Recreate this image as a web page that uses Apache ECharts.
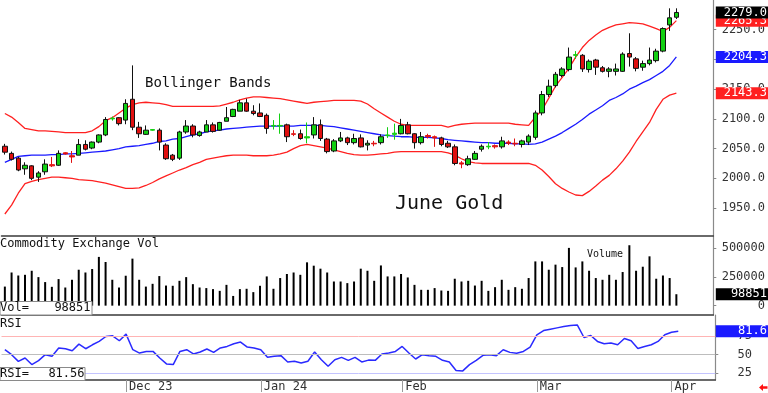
<!DOCTYPE html>
<html><head><meta charset="utf-8">
<script src="https://cdn.jsdelivr.net/npm/echarts@6/dist/echarts.min.js"></script>
<style>html,body{margin:0;padding:0;background:#fff}#c{width:768px;height:393px}</style>
</head><body><div id="c"></div>
<script>
const dates = [
'2023-11-06','2023-11-07','2023-11-08','2023-11-09','2023-11-10','2023-11-13','2023-11-14','2023-11-15','2023-11-16','2023-11-17',
'2023-11-20','2023-11-21','2023-11-22','2023-11-24','2023-11-27','2023-11-28','2023-11-29','2023-11-30',
'2023-12-01','2023-12-04','2023-12-05','2023-12-06','2023-12-07','2023-12-08','2023-12-11','2023-12-12','2023-12-13','2023-12-14','2023-12-15',
'2023-12-18','2023-12-19','2023-12-20','2023-12-21','2023-12-22','2023-12-26','2023-12-27','2023-12-28','2023-12-29',
'2024-01-02','2024-01-03','2024-01-04','2024-01-05','2024-01-08','2024-01-09','2024-01-10','2024-01-11','2024-01-12','2024-01-16',
'2024-01-17','2024-01-18','2024-01-19','2024-01-22','2024-01-23','2024-01-24','2024-01-25','2024-01-26','2024-01-29','2024-01-30','2024-01-31',
'2024-02-01','2024-02-02','2024-02-05','2024-02-06','2024-02-07','2024-02-08','2024-02-09','2024-02-12','2024-02-13','2024-02-14','2024-02-15',
'2024-02-16','2024-02-20','2024-02-21','2024-02-22','2024-02-23','2024-02-26','2024-02-27','2024-02-28','2024-02-29',
'2024-03-01','2024-03-04','2024-03-05','2024-03-06','2024-03-07','2024-03-08','2024-03-11','2024-03-12','2024-03-13','2024-03-14','2024-03-15',
'2024-03-18','2024-03-19','2024-03-20','2024-03-21','2024-03-22','2024-03-25','2024-03-26','2024-03-27','2024-03-28',
'2024-04-01','2024-04-02'];

const openP  = [2054,2042,2034,2016,2021,2002,2011,2023,2022,2043, 2038,2039,2057,2051,2061,2073,2100,2102,2098,2133,
 2086,2074,2081,2081,2056,2039,2034,2078,2088,2072, 2078,2090,2081,2096,2104,2113,2127,2113,2110,2106,
 2088,2088,2090,2075,2075,2068,2073,2090,2066,2046, 2063,2068,2060,2068,2056,2059,2060,2072,2074,2075,
 2090,2075,2060,2072,2070,2068,2059,2053,2026,2023, 2032,2049,2053,2055,2053,2061,2059,2057,2061,2069,
 2110,2141,2156,2173,2183,2207,2207,2183,2199,2186, 2180,2180,2180,2210,2201,2187,2193,2198,2214,2258, 2271];
const highP  = [2058,2045,2036,2027,2022,2012,2032,2036,2047,2044, 2046,2066,2064,2062,2074,2103,2104,2103,2133,2190,
 2095,2089,2083,2084,2059,2041,2080,2098,2091,2080, 2098,2094,2095,2120,2117,2132,2134,2123,2126,2109,
 2098,2109,2092,2081,2082,2094,2103,2099,2068,2066, 2078,2070,2075,2074,2064,2063,2074,2086,2092,2100,
 2095,2076,2078,2075,2072,2070,2063,2057,2029,2038, 2046,2057,2061,2057,2070,2064,2067,2065,2074,2114,
 2147,2166,2179,2187,2220,2214,2209,2200,2201,2189, 2187,2193,2212,2244,2204,2198,2220,2218,2254,2286, 2286];
const lowP   = [2040,2030,2012,2006,1997,1994,2006,2019,2021,2040, 2026,2039,2047,2049,2059,2071,2097,2089,2091,2081,
 2068,2073,2080,2047,2031,2029,2031,2075,2069,2070, 2078,2077,2080,2096,2103,2113,2112,2106,2103,2075,
 2082,2075,2061,2071,2065,2059,2067,2063,2042,2044, 2061,2056,2057,2052,2047,2054,2057,2068,2065,2074,
 2074,2050,2057,2067,2053,2054,2051,2022,2017,2021, 2031,2045,2049,2050,2050,2056,2054,2052,2056,2065,
 2106,2137,2153,2170,2180,2201,2179,2178,2174,2178, 2170,2173,2179,2188,2180,2181,2190,2195,2212,2248, 2268];
const closeP = [2044,2032,2014,2022,2000,2009,2024,2021,2042,2041, 2036,2057,2049,2061,2073,2099,2101,2092,2126,2086,
 2075,2081,2082,2061,2033,2032,2078,2088,2073,2078, 2090,2079,2094,2102,2116,2127,2113,2109,2104,2084,
 2089,2089,2070,2074,2067,2070,2090,2067,2045,2063, 2068,2060,2067,2053,2059,2058,2070,2073,2076,2089,
 2075,2060,2070,2070,2068,2057,2053,2025,2024,2033, 2042,2054,2054,2053,2063,2059,2058,2063,2071,2110,
 2141,2155,2175,2184,2204,2208,2184,2197,2187,2180, 2184,2184,2209,2204,2185,2193,2199,2214,2252,2270, 2279];

const bbUpper = [2109,2103,2094,2084,2082,2080,2080,2079,2078,2077, 2077,2077,2077,2080,2087,2097,2102,2110,2118,2124,
 2127,2128,2127,2126,2124,2121,2121,2121,2121,2121, 2121,2121,2122,2125,2128,2132,2135,2137,2137,2136,
 2135,2134,2132,2130,2128,2126,2128,2129,2130,2131, 2131,2131,2131,2130,2125,2117,2110,2103,2096,2091,
 2089,2089,2089,2089,2089,2089,2086,2089,2091,2092, 2093,2093,2093,2093,2093,2093,2091,2090,2089,2103,
 2115,2135,2155,2170,2185,2204,2220,2232,2241,2249, 2254,2258,2260,2262,2261,2260,2256,2252,2247,2254, 2265.3];
const bbMiddle = [2027,2032,2037,2038,2039,2039,2039,2040,2040,2041, 2041,2042,2043,2044,2045,2046,2048,2050,2053,2054,
 2055,2057,2059,2062,2063,2066,2067,2070,2073,2075, 2078,2080,2081,2083,2084,2085,2086,2087,2088,2088,
 2088,2088,2088,2088,2089,2089,2089,2089,2088,2087, 2085,2083,2081,2079,2077,2075,2073,2072,2071,2070,
 2070,2069,2069,2069,2068,2067,2065,2064,2063,2062, 2061,2060,2060,2059,2059,2059,2058,2058,2057,2058,
 2061,2066,2071,2077,2084,2091,2099,2108,2115,2122, 2131,2136,2142,2150,2155,2161,2166,2173,2180,2190, 2204.3];
const bbLower = [1940,1955,1975,1991,1995,1998,2000,2002,2002,2001, 2000,1998,1997,1996,1994,1992,1989,1986,1983,1983,
 1984,1988,1993,1999,2004,2009,2014,2018,2023,2027, 2032,2034,2036,2038,2039,2039,2039,2038,2038,2038,
 2039,2041,2044,2050,2055,2057,2055,2053,2051,2048, 2045,2042,2040,2039,2039,2040,2041,2042,2044,2045,
 2045,2045,2045,2045,2045,2045,2043,2039,2033,2028, 2026,2025,2025,2025,2025,2025,2025,2025,2025,2022,
 2014,2003,1991,1983,1977,1972,1971,1978,1987,1997, 2005,2016,2029,2044,2062,2078,2094,2116,2133,2140, 2143.3];

const volume = [165000,287000,261000,267000,302000,247000,204000,163000,230000,157000,
 224000,311000,287000,317000,422000,378000,224000,157000,259000,407000,
 224000,165000,189000,256000,174000,172000,215000,247000,186000,157000,
 152000,143000,128000,180000,84000,143000,146000,117000,172000,253000,
 146000,239000,274000,287000,267000,375000,346000,320000,287000,209000,
 209000,195000,209000,320000,302000,215000,348000,253000,253000,274000,
 244000,180000,137000,137000,152000,131000,128000,233000,209000,215000,
 174000,215000,128000,160000,224000,137000,160000,146000,239000,383000,
 383000,311000,355000,334000,500000,331000,383000,302000,239000,224000,
 267000,224000,291000,523000,302000,337000,427000,233000,261000,239000,
 98851];

const rsi = [56.7,50,41,45.6,36.7,42,50,47.8,59,58, 55.3,64.2,58,63.3,67.8,74.4,75.3,68.7,77.6,56.7,
 52.2,54.4,54.4,45.6,37.6,36.7,54.4,56.7,51,53.6, 57.6,53.1,59,61.1,64.7,66.9,60.2,59,56.7,46.4,
 47.8,48.7,40.2,41.1,38.9,41.1,53.6,43.3,34.4,43.3, 46.4,42.4,46.4,40.2,42.7,42.4,51,52.2,54.4,61.1,
 52.2,44.2,50,48.7,47.8,42.4,40.2,28.7,28.2,36.7, 42.4,49.1,50,48.7,56.7,53.1,51.8,54.4,60.2,76.7,
 82.4,84.2,86,87.8,89.1,90,73.1,75.8,67.8,64.7, 65.6,63.3,71.8,68.7,58.4,61.1,63.3,67.8,76.7,80.2, 81.56];

const monthLabels = {'2023-12-01':'Dec 23','2024-01-02':'Jan 24','2024-02-01':'Feb','2024-03-01':'Mar','2024-04-01':'Apr'};
const priceTicks = [1950,2000,2050,2100,2150,2200,2250];
const volumeTicks = [0,250000,500000];
const rsiTicks = [25,50,75];
const rsiLevels = [75,50,25];
const rsiLevelColors = ['#ffb4b4','#bdbdbd','#c4c4ff'];

const MONO = 'DejaVu Sans Mono';
const UP = '#12d012', DOWN = '#e01010';
const GL = 1.5, GW = 713.8, GR = GL + GW;
const chart = echarts.init(document.getElementById('c'), null, {renderer:'canvas'});

const candles = dates.map((d,i)=>{
  const v = [openP[i], closeP[i], lowP[i], highP[i]];
  if (Math.abs(openP[i]-closeP[i]) <= 2) {
    const c = closeP[i] >= openP[i] ? UP : DOWN;
    return {value:v, itemStyle:{borderColor:c, borderColor0:c}};
  }
  return v;
});
const isMonth = (i, v) => Object.prototype.hasOwnProperty.call(monthLabels, v);

function xAxisFor(gi, showLabels){
  return {
    type:'category', gridIndex:gi, data:dates, boundaryGap:true, max:105,
    axisLine:{show:true, onZero:false, lineStyle:{color:'#3a3a3a', width:1.5}},
    axisTick: showLabels ? {show:true, interval:isMonth, alignWithLabel:true, length:12, lineStyle:{color:'#9a9a9a'}} : {show:false},
    axisLabel: showLabels ? {show:true, interval:isMonth, formatter:v=>monthLabels[v]||'', align:'left', padding:[0,0,0,3],
      margin:1, fontFamily:MONO, fontSize:12, color:'#333'} : {show:false},
    splitLine:{show:false}
  };
}
function yAxisFor(gi, min, max, ticks, fmt, margin){
  return {
    type:'value', gridIndex:gi, position:'right', min:min, max:max, scale:true,
    axisLine:{show:true, lineStyle:{color:'#8a8a8a', width:1.2}},
    axisTick:{show:true, customValues:ticks, length:3, lineStyle:{color:'#8a8a8a'}},
    axisLabel:{show:true, customValues:ticks, formatter:fmt, align:'right', margin:margin,
      fontFamily:MONO, fontSize:12, color:'#333'},
    splitLine:{show:false}
  };
}

const option = {
  animation:false,
  backgroundColor:'#fff',
  grid:[
    {left:GL, width:GW, top:0, height:236},
    {left:GL, width:GW, top:236, height:79},
    {left:GL, width:GW, top:315, height:65.5}
  ],
  xAxis:[xAxisFor(0,false), xAxisFor(1,false), xAxisFor(2,true)],
  yAxis:[
    yAxisFor(0, 1903, 2300, priceTicks, v=>v.toFixed(1), 767-GR),
    yAxisFor(1, -81000, 603000, volumeTicks, v=>String(v), 767-GR),
    yAxisFor(2, 16, 103.3, rsiTicks, v=>String(v), 752-GR)
  ],
  series:[
    {type:'line', name:'Upper', xAxisIndex:0, yAxisIndex:0, data:bbUpper, showSymbol:false, symbol:'none',
      lineStyle:{color:'#ff2020', width:1.3}, z:2},
    {type:'line', name:'Middle', xAxisIndex:0, yAxisIndex:0, data:bbMiddle, showSymbol:false, symbol:'none',
      lineStyle:{color:'#1a1aff', width:1.3}, z:2},
    {type:'line', name:'Lower', xAxisIndex:0, yAxisIndex:0, data:bbLower, showSymbol:false, symbol:'none',
      lineStyle:{color:'#ff2020', width:1.3}, z:2},
    {type:'candlestick', name:'June Gold', xAxisIndex:0, yAxisIndex:0, data:candles, barWidth:5,
      itemStyle:{color:UP, color0:DOWN, borderColor:'#111', borderColor0:'#111', borderWidth:1}, z:3},
    {type:'bar', name:'Volume', xAxisIndex:1, yAxisIndex:1, data:volume, barWidth:2,
      itemStyle:{color:'#000'}},
    {type:'line', name:'RSI', xAxisIndex:2, yAxisIndex:2, data:rsi, showSymbol:false, symbol:'none',
      lineStyle:{color:'#2a2aff', width:1.5}, z:3,
      markLine:{silent:true, symbol:['none','none'], label:{show:false},
        data: rsiLevels.map((v,k)=>({yAxis:v, lineStyle:{color:rsiLevelColors[k], width:1, type:'solid'}}))}}
  ]
};
chart.setOption(option);

function txt(x, y, s, size, align, color, z){
  return {type:'text', z:z||50, style:{text:s, x:x, y:y, font:size+'px "'+MONO+'"', fill:color||'#111',
    textAlign:align||'left', align:align||'left', textVerticalAlign:'middle', verticalAlign:'middle'}};
}
function tag(axisIdx, value, label, bg, z){
  const y = chart.convertToPixel({yAxisIndex:axisIdx}, value);
  return [
    {type:'rect', z:z, shape:{x:GR+0.5, y:y-6, width:768-GR, height:12}, style:{fill:bg}},
    txt(767, y, label, 12, 'right', '#fff', z+1)
  ];
}
const last = dates.length-1;
const g = [];
g.push(txt(145, 83, 'Bollinger Bands', 14, 'left', '#111'));
g.push(txt(395, 204, 'June Gold', 20, 'left', '#111'));
g.push(txt(0, 243.5, 'Commodity Exchange Vol', 12, 'left', '#111'));
g.push(txt(587, 254, 'Volume', 10, 'left', '#111'));
g.push(txt(0, 323.5, 'RSI', 12, 'left', '#111'));
g.push({type:'rect', z:49, shape:{x:0, y:301.5, width:92, height:13.5}, style:{fill:'#fff', stroke:'#8a8a8a', lineWidth:1}});
g.push(txt(0, 308.3, 'Vol=', 12, 'left', '#111'));
g.push(txt(90.5, 308.3, String(volume[last]), 12, 'right', '#111'));
g.push({type:'rect', z:49, shape:{x:0, y:367.5, width:85, height:13}, style:{fill:'#fff', stroke:'#8a8a8a', lineWidth:1}});
g.push(txt(0, 374, 'RSI=', 12, 'left', '#111'));
g.push(txt(84.5, 374, rsi[last].toFixed(2), 12, 'right', '#111'));
g.push(...tag(0, bbLower[last], bbLower[last].toFixed(1), '#ff2020', 60));
g.push(...tag(0, bbMiddle[last], bbMiddle[last].toFixed(1), '#1a1aff', 62));
g.push(...tag(0, bbUpper[last], bbUpper[last].toFixed(1), '#ff2020', 64));
g.push(...tag(0, closeP[last], closeP[last].toFixed(1), '#000', 66));
g.push(...tag(1, volume[last], String(volume[last]), '#000', 60));
g.push(...tag(2, rsi[last], rsi[last].toFixed(1), '#1a1aff', 60));
g.push({type:'polygon', z:70, shape:{points:[[759,387.5],[763,384],[763,386.3],[767.5,386.3],[767.5,388.7],[763,388.7],[763,391]]},
  style:{fill:'#ff1010'}});
chart.setOption({graphic:g});
</script></body></html>
